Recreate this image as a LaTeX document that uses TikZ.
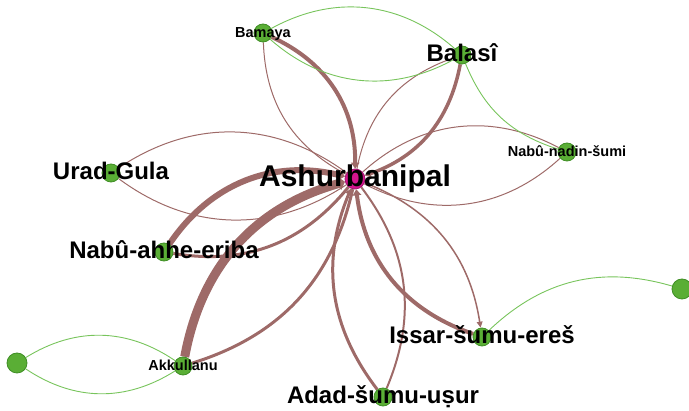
\documentclass[tikz,border=0pt]{standalone}
\usepackage{fontspec}
\setmainfont{Liberation Sans}
\usetikzlibrary{arrows.meta}
\definecolor{edgebrown}{RGB}{158,106,104}
\definecolor{edgegreen}{RGB}{120,196,92}
\definecolor{nodegreen}{RGB}{90,174,53}
\definecolor{nodegreenb}{RGB}{63,142,37}
\definecolor{nodemag}{RGB}{212,21,143}
\definecolor{nodemagb}{RGB}{160,20,110}
\pgfdeclarelayer{edges}
\pgfsetlayers{edges,main}
\tikzset{
  gnode/.style={circle,fill=nodegreen,draw=nodegreenb,line width=0.8pt,minimum size=18pt,inner sep=0pt},
  mnode/.style={circle,fill=nodemag,draw=nodemagb,line width=0.8pt,minimum size=20pt,inner sep=0pt},
  lbl/.style={inner sep=0pt,anchor=base},
  big/.style={lbl,yshift=-6.5pt,font=\fontsize{24}{24}\selectfont\bfseries},
  huge/.style={lbl,yshift=-8pt,font=\fontsize{30}{30}\selectfont\bfseries},
  small/.style={lbl,yshift=-4.5pt,font=\fontsize{14.5}{14.5}\selectfont\bfseries},
  bedge/.style={draw=edgebrown},
  gedge/.style={draw=edgegreen,line width=0.9pt},
  arr/.style={-{Triangle[length=6pt,width=4pt 1.1]}},
}
\begin{document}
\begin{tikzpicture}[x=1pt,y=-1pt]
\useasboundingbox (0,0) rectangle (689,411);
% nodes
\node[mnode] (ash) at (355,179) {};
\node[gnode] (bam) at (263,33) {};
\node[gnode] (bal) at (462,55) {};
\node[gnode] (nns) at (567,152) {};
\node[gnode] (urad) at (111,173) {};
\node[gnode] (nae) at (164,252) {};
\node[gnode] (akk) at (183,366) {};
\node[gnode,minimum size=20pt] (lft) at (17,363) {};
\node[gnode] (iss) at (482,337) {};
\node[gnode] (adad) at (383,397) {};
\node[gnode,minimum size=20pt] (rgt) at (682,289) {};
% edges
\begin{pgfonlayer}{edges}
\draw[bedge,line width=4pt,arr] (bam) to[bend left=33] (ash);
\draw[bedge,line width=1pt] (ash) to[bend left=30] (bam);
\draw[bedge,line width=3.5pt,arr] (bal) to[bend left=30] (ash);
\draw[bedge,line width=1pt] (ash) to[bend left=30] (bal);
\draw[bedge,line width=1pt] (nns) to[bend left=35] (ash);
\draw[bedge,line width=1pt] (ash) to[bend left=35] (nns);
\draw[bedge,line width=1pt] (urad) to[bend left=35] (ash);
\draw[bedge,line width=1pt] (ash) to[bend left=35] (urad);
\draw[bedge,line width=6pt,arr] (nae) to[bend left=35] (ash);
\draw[bedge,line width=3pt] (ash) to[bend left=30] (nae);
\draw[bedge,line width=9pt,arr] (akk) to[bend left=32] (ash);
\draw[bedge,line width=3pt] (ash) to[bend left=30] (akk);
\draw[bedge,line width=3pt,arr] (adad) to[bend left=30] (ash);
\draw[bedge,line width=2pt] (ash) to[bend left=30] (adad);
\draw[bedge,line width=4pt,arr] (iss) to[bend left=32] (ash);
\draw[bedge,line width=1.5pt,arr] (ash) to[bend left=30] (iss);
\draw[gedge] (bam) to[bend left=35] (bal);
\draw[gedge] (bal) to[bend left=35] (bam);
\draw[gedge] (nns) to[bend left=25] (bal);
\draw[gedge] (akk) to[bend left=33] (lft);
\draw[gedge] (lft) to[bend left=33] (akk);
\draw[gedge] (iss) to[bend left=30] (rgt);
\end{pgfonlayer}
% labels
\node[huge] (tash) at (ash) {Ashurbanipal};
\node[small] (tbam) at (bam) {Bamaya};
\node[big] (tbal) at (bal) {Balasî};
\node[small] (tnns) at (nns) {Nabû-nadin-šumi};
\node[big] (turad) at (urad) {Urad-Gula};
\node[big] (tnae) at (nae) {Nabû-ahhe-eriba};
\node[small] (takk) at (akk) {Akkullanu};
\node[big] (tiss) at (iss) {Issar-šumu-ereš};
\node[big] (tadad) at (adad) {Adad-šumu-uṣur};
\end{tikzpicture}
\end{document}
